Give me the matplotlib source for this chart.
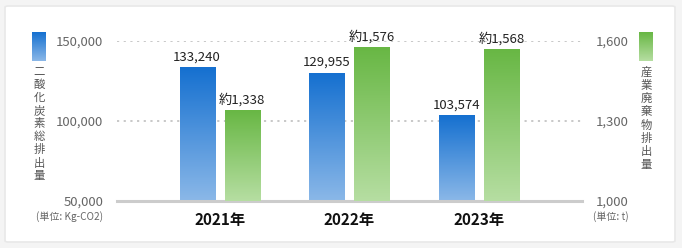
import matplotlib
matplotlib.use("Agg")
import matplotlib.pyplot as plt
import numpy as np
from matplotlib.patches import FancyBboxPatch
from matplotlib.colors import LinearSegmentedColormap

plt.rcParams['font.family'] = ['Noto Sans CJK JP', 'DejaVu Sans']

years = ["2021年", "2022年", "2023年"]
co2 = [133240, 129955, 103574]
waste = [1338, 1576, 1568]
co2_labels = ["133,240", "129,955", "103,574"]
waste_labels = ["約1,338", "約1,576", "約1,568"]
left_ticks = [50000, 100000, 150000]
right_ticks = [1000, 1300, 1600]
left_title = "二酸化炭素総排出量"
right_title = "産業廃棄物排出量"
left_unit = "(単位: Kg-CO2)"
right_unit = "(単位: t)"

W, H = 682, 248
fig = plt.figure(figsize=(W / 100, H / 100), dpi=100)
fig.patch.set_facecolor("#f4f4f4")

# card
card = FancyBboxPatch((5 / W, 6 / H), 670 / W, 236 / H,
                      boxstyle="round,pad=0,rounding_size=0.005",
                      transform=fig.transFigure, facecolor="white",
                      edgecolor="#e8e8e8", linewidth=1.2, zorder=-10)
fig.patches.append(card)

ax = fig.add_axes([117 / W, (H - 201) / H, 465 / W, 160 / H])
ax.set_facecolor("none")
ax2 = ax.twinx()

blue_cmap = LinearSegmentedColormap.from_list("b", ["#8bb8e8", "#1570d0"])
green_cmap = LinearSegmentedColormap.from_list("g", ["#b6dea2", "#68b744"])

x = np.arange(len(years))
bw = 0.27
off = 0.173
grad = np.linspace(0, 1, 256).reshape(-1, 1)

for i in range(len(years)):
    x0 = x[i] - off - bw / 2
    ax.imshow(grad, extent=[x0, x0 + bw, 50000, co2[i]], origin="lower",
              cmap=blue_cmap, aspect="auto", zorder=2)
    ax.text(x[i] - off, co2[i] + 2500, co2_labels[i], ha="center", va="bottom",
            fontsize=9.5, color="#222222", zorder=5, clip_on=False)
    x1 = x[i] + off - bw / 2
    ax2.imshow(grad, extent=[x1, x1 + bw, 1000, waste[i]], origin="lower",
               cmap=green_cmap, aspect="auto", zorder=2)
    ax2.text(x[i] + off, waste[i] + 15, waste_labels[i], ha="center", va="bottom",
             fontsize=9.5, color="#222222", zorder=5, clip_on=False)

ax.set_xlim(-0.79, 2.79)
ax.set_ylim(50000, 150000)
ax2.set_ylim(1000, 1600)

for yv in left_ticks[1:]:
    ax.axhline(yv, color="#c4c4c4", linestyle=(0, (1.2, 2.5)), linewidth=1.3, zorder=1)
ax.axhline(50000, color="#cccccc", linewidth=2.2, zorder=3, clip_on=False)

for a in (ax, ax2):
    for s in a.spines.values():
        s.set_visible(False)

ax.set_yticks(left_ticks)
ax.set_yticklabels([f"{v:,}" for v in left_ticks])
ax2.set_yticks(right_ticks)
ax2.set_yticklabels([f"{v:,}" for v in right_ticks])
ax.tick_params(axis="y", length=0, pad=10, labelsize=9.5, labelcolor="#666666")
ax2.tick_params(axis="y", length=0, pad=10, labelsize=9.5, labelcolor="#666666")
ax.set_xticks(x)
ax.set_xticklabels(years, fontsize=11, fontweight="bold", color="#111111")
ax.tick_params(axis="x", length=0, pad=8)

# legend-like gradient markers
def grad_rect(x0, y0, w, h, cmap):
    a = fig.add_axes([x0 / W, (H - y0 - h) / H, w / W, h / H])
    a.imshow(grad, cmap=cmap, origin="lower", aspect="auto")
    a.axis("off")

grad_rect(32, 32, 14, 29, blue_cmap)
grad_rect(639, 32, 14, 29, green_cmap)

for k, ch in enumerate(left_title):
    fig.text(39 / W, (H - (72 + 13 * k)) / H, ch, ha="center", va="center",
             fontsize=8.2, color="#555555")
for k, ch in enumerate(right_title):
    fig.text(646 / W, (H - (72 + 13.3 * k)) / H, ch, ha="center", va="center",
             fontsize=8.2, color="#555555")

fig.text(70 / W, (H - 217) / H, left_unit, ha="center", va="center",
         fontsize=7.2, color="#666666")
fig.text(593 / W, (H - 217) / H, right_unit, ha="left", va="center",
         fontsize=7.2, color="#666666")

fig.savefig("out.png", dpi=100, facecolor=fig.get_facecolor())
